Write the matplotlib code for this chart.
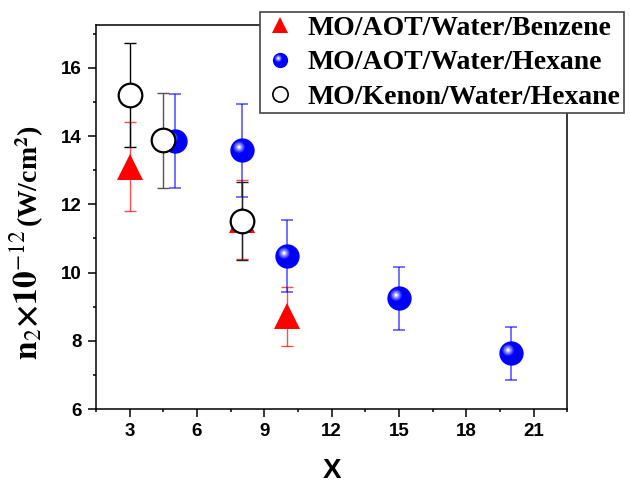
import numpy as np
import matplotlib
matplotlib.use("Agg")
import matplotlib.pyplot as plt
from matplotlib.path import Path
from matplotlib.lines import Line2D
from matplotlib.ticker import MultipleLocator

# ---- data ----
benzene_x = [3, 8, 10]
benzene_y = [13.1, 11.55, 8.72]
benzene_err = [1.3, 1.15, 0.86]

hexane_x = [5, 8, 10, 15, 20]
hexane_y = [13.86, 13.58, 10.48, 9.25, 7.64]
hexane_err = [1.38, 1.36, 1.05, 0.93, 0.77]

kenon_x = [3, 4.5, 8]
kenon_y = [15.19, 13.87, 11.51]
kenon_err = [1.52, 1.38, 1.15]
kenon_ecolors = ["black", "#555555", "#222222"]

labels = ["MO/AOT/Water/Benzene", "MO/AOT/Water/Hexane", "MO/Kenon/Water/Hexane"]
xticks = [3, 6, 9, 12, 15, 18, 21]
yticks = [6, 8, 10, 12, 14, 16]

plt.rcParams["mathtext.fontset"] = "stix"

fig = plt.figure(figsize=(6.3, 4.84), dpi=100)
ax = fig.add_axes([96 / 630, 1 - 409.3 / 484, (567.3 - 96) / 630, (409.3 - 25) / 484])


def highlight_marker(r, c=0.28):
    circ = Path.circle((-c, c), r)
    verts = np.vstack([[1.0, 0.0], circ.vertices])
    codes = np.concatenate([[Path.MOVETO], circ.codes])
    return Path(verts, codes)


hl_layers = [(0.46, "#3a3aff"), (0.34, "#7272ff"), (0.22, "#b4b4ff"), (0.11, "#ffffff")]

# Benzene (red triangles)
ax.errorbar(benzene_x, benzene_y, yerr=benzene_err, fmt="none", ecolor="red",
            alpha=0.7, elinewidth=1.0, capsize=4, capthick=1.0, zorder=2)
ax.plot(benzene_x, benzene_y, ls="none", marker="^", ms=19, color="red",
        mec="red", mew=0, zorder=3)

# Hexane (blue balls)
ax.errorbar(hexane_x, hexane_y, yerr=hexane_err, fmt="none", ecolor="blue",
            alpha=0.7, elinewidth=1.1, capsize=4, capthick=1.1, zorder=4)
ax.plot(hexane_x, hexane_y, ls="none", marker="o", ms=17.5, color="blue",
        mec="blue", mew=0, zorder=5)
for r, col in hl_layers:
    ax.plot(hexane_x, hexane_y, ls="none", marker=highlight_marker(r), ms=17.5,
            color=col, mew=0, zorder=5.1)

# Kenon (open circles)
for xi, yi, ei, ec in zip(kenon_x, kenon_y, kenon_err, kenon_ecolors):
    ax.errorbar([xi], [yi], yerr=[ei], fmt="none", ecolor=ec, elinewidth=1.0,
                capsize=4, capthick=1.0, zorder=6)
ax.plot(kenon_x, kenon_y, ls="none", marker="o", ms=17, mfc="white",
        mec="black", mew=1.6, zorder=7)

ax.set_xlim(1.5, 22.5)
ax.set_ylim(6, 17.25)
ax.set_xticks(xticks)
ax.set_yticks(yticks)
ax.xaxis.set_minor_locator(MultipleLocator(1.5))
ax.yaxis.set_minor_locator(MultipleLocator(1))
ax.tick_params(which="major", direction="out", length=5.5, width=1.1, pad=4.5)
ax.tick_params(which="minor", direction="out", length=2.5, width=1.1)
for lab in ax.get_xticklabels() + ax.get_yticklabels():
    lab.set_fontfamily("Liberation Sans")
    lab.set_fontweight("bold")
    lab.set_fontsize(13.5)
for sp in ax.spines.values():
    sp.set_linewidth(1.1)

ax.set_xlabel("X", fontfamily="Liberation Sans", fontweight="bold",
              fontsize=20, labelpad=12.5)

# y label in two parts
fig.text(38 / 630, 1 - 360 / 484, r"$\mathbf{n}_{2}\mathbf{\times 10}^{-12}$",
         rotation=90, rotation_mode="anchor", ha="left", va="baseline",
         fontsize=24, fontweight="bold")
fig.text(38 / 630, 1 - 227 / 484, r"(W/cm$^{\mathbf{2}}$)",
         rotation=90, rotation_mode="anchor", ha="left", va="baseline",
         fontsize=20, fontweight="bold", fontfamily="Liberation Serif")

# legend
h_benz = Line2D([], [], ls="none", marker="^", ms=12, color="red", mew=0)
h_hex = [Line2D([], [], ls="none", marker="o", ms=11, color="blue", mew=0)]
for r, col in hl_layers:
    h_hex.append(Line2D([], [], ls="none", marker=highlight_marker(r), ms=11,
                        color=col, mew=0))
h_ken = Line2D([], [], ls="none", marker="o", ms=11, mfc="white", mec="black", mew=1.2)
leg = fig.legend([h_benz, tuple(h_hex), h_ken], labels, loc="upper left",
                 bbox_to_anchor=(260 / 630, 1 - 12 / 484), frameon=True,
                 fancybox=False, framealpha=1, edgecolor="#444444",
                 prop={"family": "Liberation Serif", "weight": "bold", "size": 20},
                 handlelength=1.2, handletextpad=0.4, labelspacing=0.33,
                 borderpad=0.12, borderaxespad=0, numpoints=1)
leg.get_frame().set_linewidth(1.2)
leg.set_zorder(10)

fig.savefig("out.png", dpi=100)
